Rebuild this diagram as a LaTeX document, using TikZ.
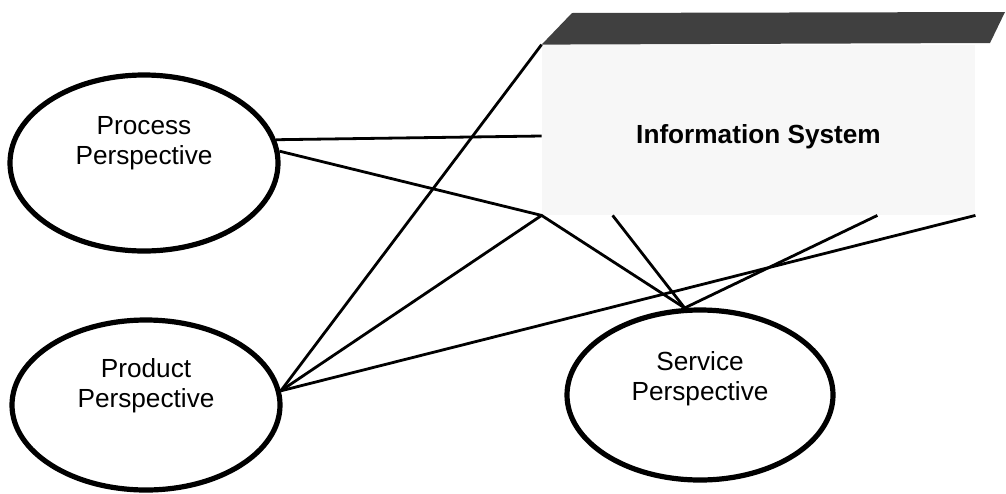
\documentclass[tikz,border=0pt]{standalone}
\usepackage{fontspec}
\setmainfont{Liberation Sans}
\usetikzlibrary{shapes.geometric}

\begin{document}
\begin{tikzpicture}[x=0.5pt,y=-0.5pt,
  persp/.style={draw,ellipse,line width=2.6pt,minimum width=134pt,minimum height=86pt},
  ptext/.style={align=center,font=\fontsize{13.1}{15}\selectfont},
  link/.style={line width=1.4pt}]
\useasboundingbox (0,0) rectangle (1006,493);

% system box and its dark top band
\node[fill=black!3,inner sep=0pt,minimum width=216.5pt,minimum height=85pt,
  label={[ptext,font=\fontsize{13.1}{15}\selectfont\bfseries,yshift=-3.5pt]center:Information System}]
  (infosys) at (758.5,130) {};
\coordinate (band-r) at (990,43);
\coordinate (band-tr) at (1005,12);
\coordinate (band-tl) at (572,13);
\fill[black!75] (infosys.north west) -- (band-r) -- (band-tr) -- (band-tl) -- cycle;

% the three perspectives
\node[persp,minimum height=88pt,label={[ptext,yshift=10pt]center:Process\\Perspective}] (proc) at (144,163) {};
\node[persp,minimum height=85pt,label={[ptext,yshift=9.5pt]center:Product\\Perspective}] (prod) at (146,405) {};
\node[persp,minimum width=133pt,minimum height=85pt,label={[ptext,yshift=8pt]center:Service\\Perspective}] (svc) at (700,395) {};

\coordinate (is-w) at ([yshift=-3pt]infosys.west);
\coordinate (is-s1) at ([xshift=35.5pt]infosys.south west);
\coordinate (is-s2) at ([xshift=-49pt]infosys.south east);
\coordinate (svc-top) at (svc.100);
\coordinate (prod-r) at (prod.6);

% connectors
\draw[link] (proc.10) -- (is-w);
\draw[link] (proc.5) -- (infosys.south west) -- (svc-top);
\draw[link] (prod-r) -- (infosys.north west);
\draw[link] (prod-r) -- (infosys.south west);
\draw[link] (prod-r) -- (infosys.south east);
\draw[link] (is-s1) -- (svc-top);
\draw[link] (is-s2) -- (svc-top);
\end{tikzpicture}
\end{document}
